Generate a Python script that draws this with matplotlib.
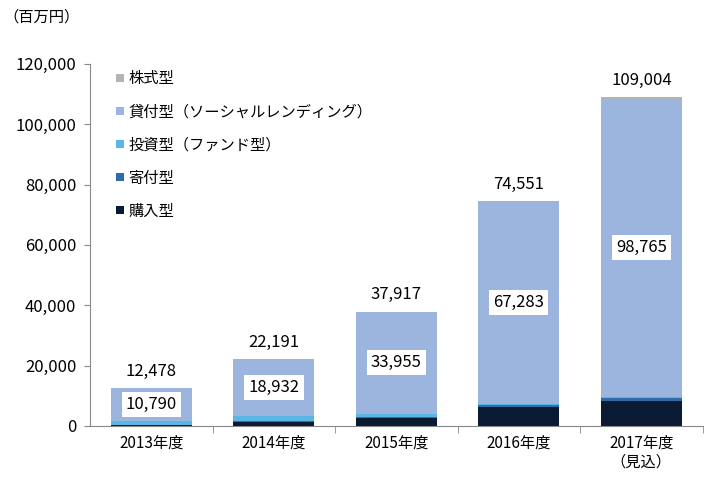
import numpy as np
import matplotlib
matplotlib.use('Agg')
import matplotlib.pyplot as plt

plt.rcParams['font.family'] = ['Noto Sans CJK JP', 'DejaVu Sans']

years = ['2013年度', '2014年度', '2015年度', '2016年度', '2017年度\n（見込）']
purchase = [150, 1300, 2700, 6300, 8400]      # 購入型
donation = [50, 250, 250, 500, 800]           # 寄付型
fund = [1488, 1709, 1012, 468, 539]           # 投資型
lending = [10790, 18932, 33955, 67283, 98765] # 貸付型
equity = [0, 0, 0, 0, 500]                    # 株式型
totals = [12478, 22191, 37917, 74551, 109004]

series = [
    ('購入型', purchase, '#0b1a33'),
    ('寄付型', donation, '#2f6ca8'),
    ('投資型（ファンド型）', fund, '#5ab6e4'),
    ('貸付型（ソーシャルレンディング）', lending, '#9cb5de'),
    ('株式型', equity, '#b3b3b3'),
]

fig = plt.figure(figsize=(7.04, 4.84), dpi=100)
ax = fig.add_axes([0.128, 0.12, 0.87, 0.748])

x = np.arange(len(years))
bottom = np.zeros(len(years))
handles = []
for name, vals, color in series:
    h = ax.bar(x, vals, 0.66, bottom=bottom, color=color, label=name, edgecolor='none')
    handles.append(h)
    bottom += np.array(vals)

base = np.array(purchase) + np.array(donation) + np.array(fund)
for i in range(len(years)):
    mid = base[i] + lending[i] / 2
    ax.text(x[i], mid, f'{lending[i]:,}', ha='center', va='center', fontsize=12,
            bbox=dict(facecolor='white', edgecolor='none', pad=3))
    ax.text(x[i], totals[i] + 5500, f'{totals[i]:,}', ha='center', va='center', fontsize=12)

ax.set_xlim(-0.5, len(years) - 0.5)
ax.set_ylim(0, 120000)
ax.set_yticks(range(0, 120001, 20000))
ax.set_yticklabels([f'{v:,}' for v in range(0, 120001, 20000)], fontsize=12)
ax.set_xticks(x)
ax.set_xticklabels(years, fontsize=11)
ax.tick_params(axis='x', length=0, pad=6)
ax.set_xticks(np.arange(0.5, len(years) - 0.5 + 1e-9, 1), minor=True)
ax.tick_params(axis='x', which='minor', length=5, color='#888888')
ax.tick_params(axis='y', length=4, color='#888888', pad=6)

for s in ['top', 'right']:
    ax.spines[s].set_visible(False)
ax.spines['left'].set_color('#888888')
ax.spines['bottom'].set_color('#888888')

ax.legend(handles[::-1], [s[0] for s in series][::-1], loc='upper left',
          bbox_to_anchor=(0.02, 1.02), frameon=False, fontsize=11,
          handlelength=0.5, handleheight=0.5, handletextpad=0.3, labelspacing=1.05)

fig.text(0.005, 0.965, '（百万円）', fontsize=11, va='center')

fig.savefig('out.png', dpi=100)
